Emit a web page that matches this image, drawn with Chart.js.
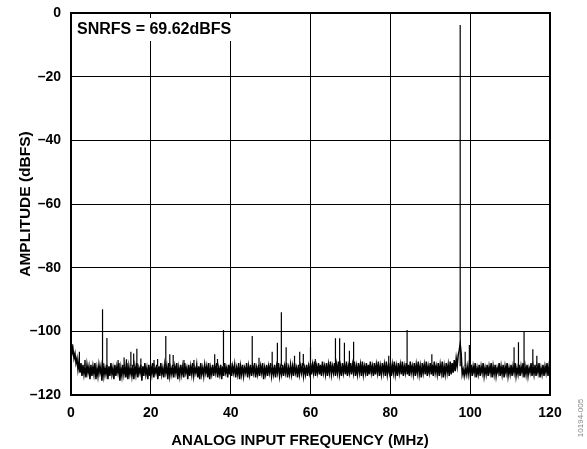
<!DOCTYPE html>
<html>
<head>
<meta charset="utf-8">
<script src="https://cdn.jsdelivr.net/npm/chart.js@4"></script>
<style>
  html, body { margin: 0; padding: 0; background: #fff; }
  #wrap { width: 587px; height: 449px; position: relative; }
</style>
</head>
<body>
<div id="wrap"><canvas id="fft"></canvas></div>
<script>
// FFT floor, one value per 0.25 MHz bin (0 .. 120 MHz), dBFS
const binStep = 0.25;
const noiseFloor = [
  -104,-107,-105.5,-108.5,-107,-110,-108.5,-112,-109.5,-113,-110,-114,-110.5,-113.5,-111,-114.5,-110.5,-113,-111,-115,
  -110.5,-114,-111,-113.5,-110,-115,-111.5,-114,-110.5,-113,-111,-115.5,-110,-114,-111.5,-113.5,-110.5,-115,-111,-114,
  -110,-113.5,-111.5,-115,-110.5,-114,-111,-113,-110,-115.5,-111.5,-114,-110.5,-113.5,-111,-114.5,-110,-115,-111,-113.5,
  -111.5,-114,-110.5,-115,-111,-113.5,-110,-114.5,-111.5,-113,-110.5,-115.5,-111,-114,-110,-113.5,-111.5,-115,-110.5,-114,
  -111,-113.5,-110,-114.5,-111.5,-113,-110.5,-115,-111,-114,-110,-113.5,-111.5,-114.5,-110.5,-113,-111,-115,-110,-114,
  -111.5,-113.5,-110.5,-114.5,-111,-113,-110,-115,-111.5,-114,-110.5,-113.5,-111,-114.5,-110,-113,-111.5,-115,-110.5,-114,
  -111,-113.5,-110,-114,-111.5,-113,-110.5,-114.5,-111,-115,-110,-113.5,-111.5,-114,-110.5,-113,-111,-114.5,-110,-115,
  -111.5,-113.5,-110.5,-114,-111,-113,-110,-114.5,-111.5,-113.5,-110.5,-115,-111,-114,-110,-113,-111.5,-114.5,-110.5,-113.5,
  -110,-114,-111,-113,-110.5,-114.5,-111.5,-113.5,-110,-115,-111,-113.5,-110.5,-114,-111.5,-113,-110,-114.5,-111,-113.5,
  -110.5,-114,-111,-113,-110,-114.5,-111.5,-113.5,-110.5,-114,-111,-113,-110,-115,-111.5,-113.5,-110.5,-114,-111,-113,
  -110,-114,-111.5,-113.5,-110.5,-114.5,-111,-113,-110,-114,-111.5,-113.5,-110.5,-114,-111,-113,-110,-114.5,-111.5,-113.5,
  -110.5,-113.5,-111,-114,-110,-113,-111.5,-114.5,-110.5,-113.5,-111,-113,-110,-114,-111.5,-113.5,-110.5,-114,-111,-113,
  -110,-113.5,-110.5,-113,-109.5,-114,-111,-113,-110,-113.5,-110.5,-114,-109.5,-113,-111,-113.5,-110,-114,-110.5,-113,
  -109.5,-113.5,-111,-113,-110,-114,-110.5,-113,-109.5,-113.5,-111,-114,-110,-113,-110.5,-113.5,-109.5,-114,-111,-113,
  -110,-113.5,-110.5,-113,-109.5,-114,-111,-113.5,-110,-113,-110.5,-114,-109.5,-113.5,-111,-113,-110,-114,-110.5,-113.5,
  -109.5,-113,-111,-114,-110,-113.5,-110.5,-113,-109.5,-114,-111,-113.5,-110,-113,-110.5,-114,-109.5,-113.5,-111,-113,
  -110,-114,-110.5,-113,-109.5,-113.5,-111,-114,-110,-113,-110.5,-113.5,-109.5,-114,-111,-113,-110,-113.5,-110.5,-114,
  -109.5,-113,-111,-113.5,-110,-114,-110.5,-113,-109.5,-113.5,-111,-114.5,-110,-113,-110.5,-113.5,-109.5,-114,-111,-113,
  -110,-113.5,-110.5,-114,-109.5,-113,-111,-113.5,-110,-114,-110.5,-113,-109.5,-114.5,-111,-113.5,-110,-113,-110.5,-114,
  -109.5,-113.5,-110,-113,-109,-112.5,-108.5,-111,-107.5,-106,-104,-107,-113.5,-112,-114,-111.5,-113.5,-111,-113.5,-110.5,
  -113.5,-110.5,-114,-111,-113,-110,-114.5,-111.5,-113.5,-110.5,-114,-111,-113,-110,-114,-111.5,-113.5,-110.5,-114,-111,
  -113,-110,-114.5,-111,-113.5,-110.5,-114,-111.5,-113,-110,-114,-111,-113.5,-110.5,-114.5,-111,-113,-110,-114,-111.5,
  -113.5,-110.5,-114,-111,-113,-110,-114,-111.5,-113.5,-110.5,-114,-111,-113,-110,-114.5,-111,-113.5,-110.5,-114,-111.5,
  -113,-110,-114,-111,-113.5,-110.5,-114,-111,-113,-110,-114.5,-111.5,-113.5,-110.5,-114,-111,-113,-110,-114,-111,
  -113
];

// spurs and the fundamental: [MHz, dBFS]
const spurFreqs = [2.1, 3.5, 7.9, 9.0, 11.8, 13.3, 13.9, 15.0, 15.7, 16.5, 17.5, 20.8, 21.7, 23.75, 24.75, 25.6,
  28.3, 30.8, 36.0, 36.7, 38.2, 45.4, 47.1, 50.4, 51.7, 52.7, 53.9, 56.0, 57.3, 58.2, 60.0, 61.2, 66.25, 67.3,
  68.5, 69.75, 70.8, 79.6, 84.2, 90.4, 97.5, 98.75, 99.8, 111.0, 112.1, 113.5, 115.7, 116.7];
const spurLevels = [-106.4, -109, -93.1, -102.1, -109, -108.2, -108.8, -106.4, -107, -105.5, -108.5, -109, -108.7, -101.5, -107.2, -107.4,
  -109, -109, -107.2, -108.7, -99.6, -101.5, -108.3, -106.4, -103.6, -94, -105, -107.7, -106.4, -107.1, -105, -108.7, -102.2, -102.2,
  -103.6, -106.1, -103.3, -107.7, -99.6, -107.2, -3.8, -106.4, -104.3, -105, -103.4, -100.1, -105.6, -107.7];
const spurBase = -111;

const xTicks = [0, 20, 40, 60, 80, 100, 120];
const yTicks = [0, -20, -40, -60, -80, -100, -120];
const snrLabel = 'SNRFS = 69.62dBFS';
const xTitle = 'ANALOG INPUT FREQUENCY (MHz)';

const tracePoints = noiseFloor.map((v, i) => ({ x: i * binStep, y: v }));
const spurPoints = [];
spurFreqs.forEach((f, i) => {
  spurPoints.push({ x: f, y: spurBase }, { x: f, y: spurLevels[i] }, { x: f, y: null });
});

const FONT = 'Liberation Sans, Arial, Helvetica, sans-serif';

// frame, note box, x title and side code
const decor = {
  id: 'decor',
  afterDraw(chart) {
    const { ctx, chartArea: a } = chart;
    ctx.save();
    ctx.fillStyle = '#fff';
    ctx.fillRect(75, 18, 159, 23);
    ctx.fillStyle = '#000';
    ctx.font = 'bold 16px ' + FONT;
    ctx.textBaseline = 'middle';
    ctx.fillText(snrLabel, 77, 30);
    ctx.font = 'bold 15px ' + FONT;
    ctx.textAlign = 'center';
    ctx.fillText(xTitle, 300, 441);
    ctx.strokeStyle = '#000';
    ctx.lineWidth = 2;
    ctx.strokeRect(a.left, a.top, a.right - a.left, a.bottom - a.top);
    ctx.translate(581, 418);
    ctx.rotate(-Math.PI / 2);
    ctx.fillStyle = '#888';
    ctx.font = '8px ' + FONT;
    ctx.fillText('10194-005', 0, 0);
    ctx.restore();
  }
};

new Chart(document.getElementById('fft'), {
  type: 'line',
  data: {
    datasets: [
      { data: tracePoints, borderColor: '#000', borderWidth: 1.5, pointRadius: 0, tension: 0 },
      { data: spurPoints, borderColor: '#000', borderWidth: 1.2, pointRadius: 0, spanGaps: false }
    ]
  },
  options: {
    responsive: true,
    maintainAspectRatio: false,
    animation: false,
    events: [],
    layout: { padding: { top: 13, right: 37, left: 0, bottom: 0 } },
    plugins: { legend: { display: false }, tooltip: { enabled: false } },
    scales: {
      x: {
        type: 'linear',
        min: 0, max: 120,
        afterFit: s => { s.height = 54; s.paddingLeft = 0; s.paddingRight = 0; },
        afterBuildTicks: s => { s.ticks = xTicks.map(v => ({ value: v })); },
        grid: { color: '#000', lineWidth: 1, drawTicks: false },
        border: { display: false },
        ticks: { padding: 10, color: '#000', font: { family: FONT, size: 14, weight: 'bold' }, maxRotation: 0 }
      },
      y: {
        min: -120, max: 0,
        afterFit: s => { s.width = 71; s.paddingTop = 0; s.paddingBottom = 0; },
        afterBuildTicks: s => { s.ticks = yTicks.map(v => ({ value: v })); },
        grid: { color: '#000', lineWidth: 1, drawTicks: false },
        border: { display: false },
        ticks: {
          padding: 10, color: '#000', font: { family: FONT, size: 14, weight: 'bold' },
          callback: v => (v < 0 ? '\u2013' + Math.abs(v) : String(v))
        },
        title: {
          display: true, text: 'AMPLITUDE (dBFS)', color: '#000',
          font: { family: FONT, size: 15.5, weight: 'bold', lineHeight: 1 }, padding: { top: 18, bottom: 0 }
        }
      }
    }
  },
  plugins: [decor]
});
</script>
</body>
</html>
